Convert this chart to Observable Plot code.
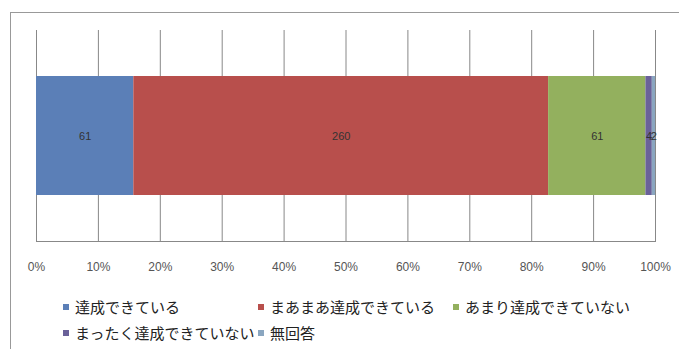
<!DOCTYPE html>
<html><head><meta charset="utf-8">
<script src="https://cdn.jsdelivr.net/npm/d3@7"></script>
<script src="https://cdn.jsdelivr.net/npm/@observablehq/plot@0.6"></script>
<style>
body{margin:0;background:#fff;}
#wrap{position:relative;width:679px;height:349px;overflow:hidden;background:#fff;}
#frame{position:absolute;left:10px;top:12px;width:700px;height:400px;border-left:1px solid #999;border-top:1px solid #999;}
#chart{position:absolute;left:0;top:0;}
#legend{position:absolute;left:63px;top:294px;display:grid;grid-template-columns:195px 195px 195px;font-family:"Noto Sans CJK JP";font-size:15px;color:#222;line-height:26px;}
.item{display:flex;align-items:center;white-space:nowrap;}
.sw{width:6px;height:6px;margin-right:6px;flex:none;}
</style></head><body>
<div id="wrap"><div id="frame"></div><div id="chart"></div><div id="legend"></div></div>
<script>
const categories = ["達成できている","まあまあ達成できている","あまり達成できていない","まったく達成できていない","無回答"];
const values = [61, 260, 61, 4, 2];
const colors = ["#5b7fb7","#b84f4c","#93b05e","#6a6199","#8aa6c0"];
const xTicks = [0,10,20,30,40,50,60,70,80,90,100];
const tickLabels = ["0%","10%","20%","30%","40%","50%","60%","70%","80%","90%","100%"];

const total = d3.sum(values);
const data = categories.map((c, i) => ({category: c, share: values[i] / total * 100, count: values[i], row: ""}));

const chart = Plot.plot({
  width: 679, height: 290,
  marginLeft: 36, marginRight: 24, marginTop: 30, marginBottom: 49,
  x: {domain: [0, 100], label: null},
  y: {domain: [""], paddingInner: 0, paddingOuter: 0.386, axis: null, label: null},
  color: {domain: categories, range: colors},
  style: {background: "transparent"},
  marks: [
    Plot.gridX(xTicks, {stroke: "#888", strokeOpacity: 1}),
    Plot.barX(data, Plot.stackX({x: "share", y: "row", fill: "category", order: null})),
    Plot.text(data, Plot.stackX({x: "share", y: "row", z: "category", text: "count", order: null, fontSize: 11, fill: "#333", fontFamily: "Liberation Sans"})),
    Plot.axisX({ticks: xTicks, tickFormat: d => tickLabels[xTicks.indexOf(d)], tickSize: 0, tickPadding: 21, fontSize: 12, fill: "#555", fontFamily: "Liberation Sans", label: null}),
    Plot.frame({anchor: "bottom", stroke: "#888"})
  ]
});
document.getElementById("chart").appendChild(chart);

const legend = document.getElementById("legend");
categories.forEach((c, i) => {
  const item = document.createElement("div");
  item.className = "item";
  const sw = document.createElement("span");
  sw.className = "sw";
  sw.style.background = colors[i];
  const t = document.createElement("span");
  t.textContent = c;
  item.appendChild(sw);
  item.appendChild(t);
  legend.appendChild(item);
});
</script>
</body></html>
